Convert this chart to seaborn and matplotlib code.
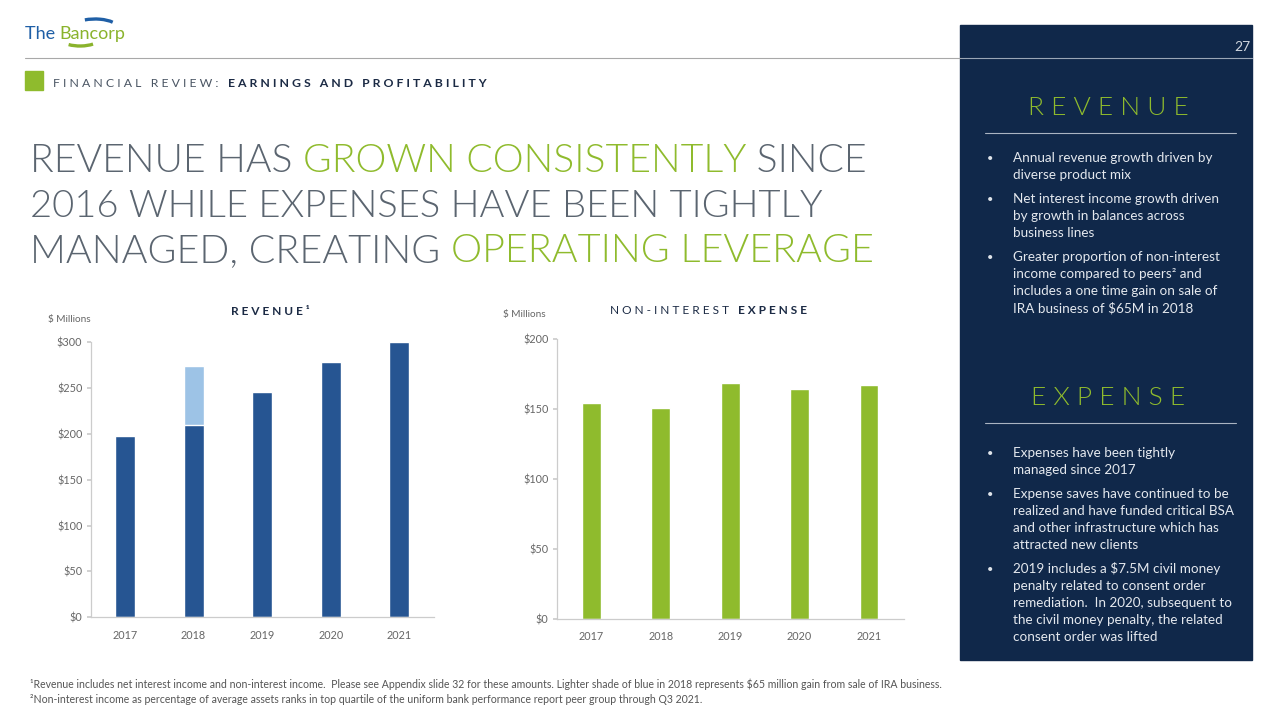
import matplotlib
matplotlib.use("Agg")
import matplotlib.pyplot as plt
import seaborn as sns
import pandas as pd
from matplotlib.patches import Rectangle, Arc

# ---------------- data ----------------
years = ["2017", "2018", "2019", "2020", "2021"]
revenue_base = [198, 210, 245, 278, 300]       # $ millions (dark blue)
revenue_gain = [0, 64, 0, 0, 0]                # one-time IRA sale gain (light blue)
expense = [154.5, 151, 169, 164.5, 167.5]      # non-interest expense, $ millions
rev_ticks = [0, 50, 100, 150, 200, 250, 300]
exp_ticks = [0, 50, 100, 150, 200]

DARK_BLUE = "#265592"
LIGHT_BLUE = "#9dc3e6"
GREEN = "#8fbb2d"
NAVY = "#1b2a44"
GRAY_T = "#5b6570"
TICK_C = "#666666"
PANEL = "#10284a"

sns.set_theme(style="white")
plt.rcParams["font.family"] = ["Lato", "DejaVu Sans"]

fig = plt.figure(figsize=(12.8, 7.2), dpi=100)
bg = fig.add_axes([0, 0, 1, 1], zorder=0)
bg.set_xlim(0, 1280)
bg.set_ylim(720, 0)
bg.axis("off")

renderer = fig.canvas.get_renderer()


def rich(x, y, parts, **kw):
    """Draw consecutive text segments [(text, props), ...] starting at x."""
    for txt, props in parts:
        p = dict(kw)
        p.update(props)
        t = bg.text(x, y, txt, va="baseline", ha="left", **p)
        x += t.get_window_extent(renderer).width
    return x

# ---------------- right panel ----------------
bg.add_patch(Rectangle((960, 25), 292, 635, color=PANEL, zorder=0))
bg.plot([960, 1252], [58, 58], color="#9aa6b6", lw=0.8)
bg.text(1250, 51, "27", color="#d0d6de", fontsize=10, ha="right", va="baseline")

bg.text(1108, 115, "R E V E N U E", color=GREEN, fontsize=19, ha="center",
        va="baseline", fontweight=300)
bg.plot([985, 1236], [133, 133], color="#aab4c2", lw=0.8)
bg.text(1108, 405, "E X P E N S E", color=GREEN, fontsize=19, ha="center",
        va="baseline", fontweight=300)
bg.plot([985, 1236], [423, 423], color="#aab4c2", lw=0.8)

rev_bullets = [
    ["Annual revenue growth driven by", "diverse product mix"],
    ["Net interest income growth driven", "by growth in balances across", "business lines"],
    ["Greater proportion of non-interest", "income compared to peers\u00b2 and",
     "includes a one time gain on sale of", "IRA business of $65M in 2018"],
]
exp_bullets = [
    ["Expenses have been tightly", "managed since 2017"],
    ["Expense saves have continued to be", "realized and have funded critical BSA",
     "and other infrastructure which has", "attracted new clients"],
    ["2019 includes a $7.5M civil money", "penalty related to consent order",
     "remediation.  In 2020, subsequent to", "the civil money penalty, the related",
     "consent order was lifted"],
]


def bullets(y0, groups):
    y = y0
    for g in groups:
        bg.text(987, y, "\u2022", color="#dfe4ea", fontsize=8, va="baseline")
        for line in g:
            bg.text(1013, y, line, color="#e4e8ee", fontsize=9.7, va="baseline")
            y += 17
        y += 7


bullets(162, rev_bullets)
bullets(457, exp_bullets)

# ---------------- header ----------------
bg.plot([25, 960], [58, 58], color="#a8a8a8", lw=0.8)
bg.add_patch(Rectangle((25, 71), 18, 19, color=GREEN))
rich(53, 87, [("F I N A N C I A L   R E V I E W :   ", dict(color="#4a5563")),
              ("E A R N I N G S   A N D   P R O F I T A B I L I T Y",
               dict(color=NAVY, fontweight="bold"))], fontsize=8.8)

# logo (y axis is inverted here: angles near 270 point up, near 90 point down)
rich(25, 39, [("The ", dict(color="#1f5fa6")), ("Bancorp", dict(color="#8ab32c"))],
     fontsize=13)
bg.add_patch(Arc((95, 27), 44, 16, theta1=215, theta2=345, color="#1f5fa6", lw=2.4))
bg.add_patch(Arc((80, 38), 40, 16, theta1=25, theta2=150, color="#8ab32c", lw=2.4))

# ---------------- title ----------------
G = dict(color=GRAY_T)
H = dict(color=GREEN)
title_lines = [
    (172, [("REVENUE HAS ", G), ("GROWN CONSISTENTLY", H), (" SINCE", G)], 836),
    (217, [("2016 WHILE EXPENSES HAVE BEEN TIGHTLY", G)], 792),
    (262, [("MANAGED, CREATING ", G), ("OPERATING LEVERAGE", H)], 842),
]
for y, parts, target in title_lines:
    full = "".join(p[0] for p in parts)
    t = bg.text(0, 0, full, fontsize=30, fontweight=300)
    w = t.get_window_extent(renderer).width
    t.remove()
    fs = 30 * target / w
    rich(30, y, parts, fontsize=fs, fontweight=300)

# ---------------- footnotes ----------------
bg.text(30, 688, "\u00b9Revenue includes net interest income and non-interest income.  Please see "
        "Appendix slide 32 for these amounts. Lighter shade of blue in 2018 represents $65 million "
        "gain from sale of IRA business.", fontsize=7.6, color="#555555", va="baseline")
bg.text(30, 703, "\u00b2Non-interest income as percentage of average assets ranks in top quartile "
        "of the uniform bank performance report peer group through Q3 2021.",
        fontsize=7.6, color="#555555", va="baseline")

# ---------------- charts ----------------
rev_df = pd.DataFrame({"year": years, "base": revenue_base,
                       "total": [b + g for b, g in zip(revenue_base, revenue_gain)]})
exp_df = pd.DataFrame({"year": years, "expense": expense})


def style_axes(ax, ticks, lim):
    ax.set_ylim(0, lim)
    ax.set_yticks(ticks)
    ax.set_yticklabels([f"${v}" for v in ticks])
    ax.set_xlabel("")
    ax.set_ylabel("")
    ax.patch.set_alpha(0)
    for s in ["top", "right"]:
        ax.spines[s].set_visible(False)
    for s in ["left", "bottom"]:
        ax.spines[s].set_color("#cccccc")
        ax.spines[s].set_linewidth(0.9)
    ax.tick_params(axis="y", length=3, color="#cccccc", labelsize=7.8,
                   labelcolor=TICK_C, pad=3, left=True)
    ax.tick_params(axis="x", length=0, labelsize=7.8, labelcolor=TICK_C, pad=9)


ax1 = fig.add_axes([90.7 / 1280, 1 - 617.3 / 720, 343 / 1280, 275.3 / 720], zorder=2)
sns.barplot(data=rev_df, x="year", y="total", color=LIGHT_BLUE, saturation=1,
            width=0.29, ax=ax1)
sns.barplot(data=rev_df, x="year", y="base", color=DARK_BLUE, saturation=1,
            width=0.29, ax=ax1)
ax1.set_xlim(-0.5, 4.5)
style_axes(ax1, rev_ticks, 300)

ax2 = fig.add_axes([556.7 / 1280, 1 - 619 / 720, 347 / 1280, 279.7 / 720], zorder=2)
sns.barplot(data=exp_df, x="year", y="expense", color=GREEN, saturation=1,
            width=0.27, ax=ax2)
ax2.set_xlim(-0.5, 4.5)
style_axes(ax2, exp_ticks, 200)

# chart titles
bg.text(270, 315, "R E V E N U E \u00b9", color=NAVY, fontsize=8.6, fontweight="bold",
        ha="center", va="baseline")
bg.text(48, 322, "$ Millions", color=TICK_C, fontsize=7.2, va="baseline")
rich(610, 314, [("N O N - I N T E R E S T   ", dict(color=NAVY)),
                ("E X P E N S E", dict(color=NAVY, fontweight="bold"))], fontsize=8.6)
bg.text(503, 317, "$ Millions", color=TICK_C, fontsize=7.2, va="baseline")

fig.savefig("out.png", dpi=100)
